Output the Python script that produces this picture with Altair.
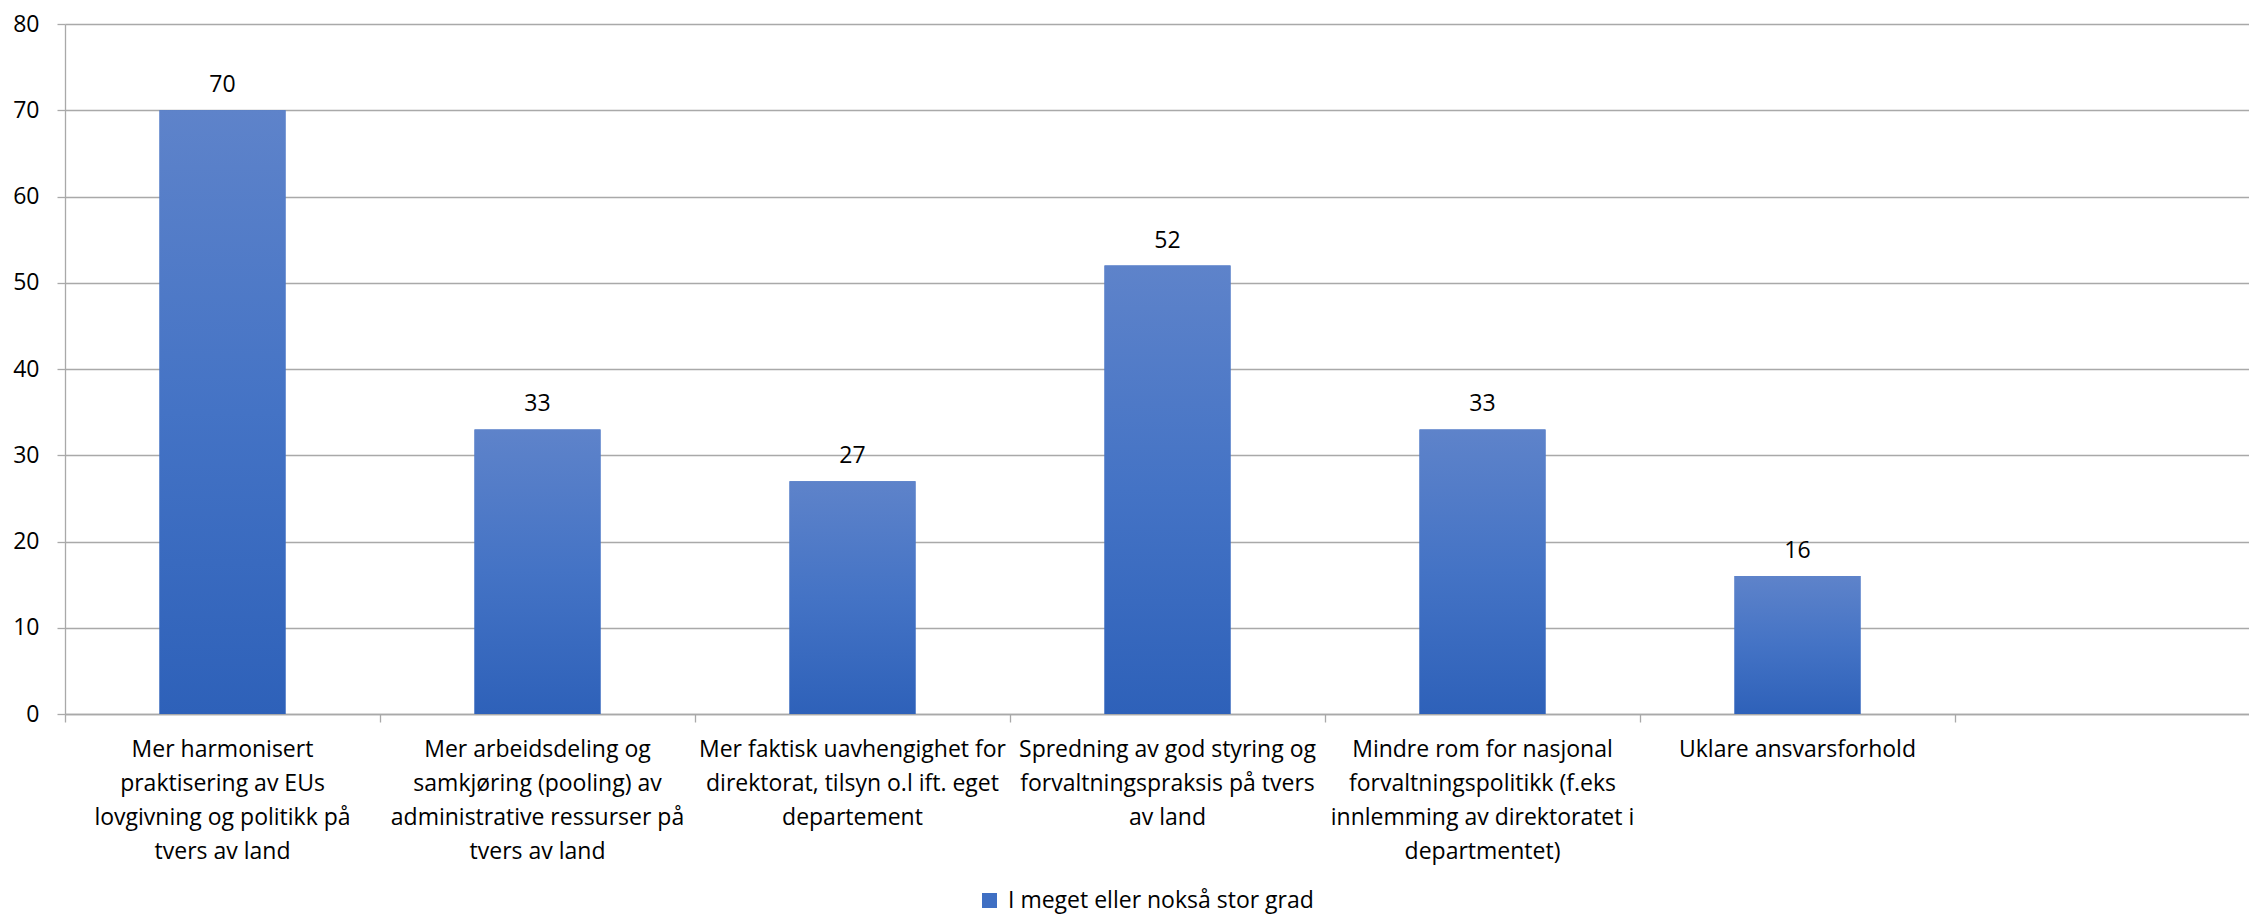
import altair as alt
import pandas as pd

# ---- data ----
categories = [
    "Mer harmonisert|praktisering av EUs|lovgivning og politikk på|tvers av land",
    "Mer arbeidsdeling og|samkjøring (pooling) av|administrative ressurser på|tvers av land",
    "Mer faktisk uavhengighet for|direktorat, tilsyn o.l ift. eget|departement",
    "Spredning av god styring og|forvaltningspraksis på tvers|av land",
    "Mindre rom for nasjonal|forvaltningspolitikk (f.eks|innlemming av direktoratet i|departmentet)",
    "Uklare ansvarsforhold",
]
values = [70, 33, 27, 52, 33, 16]
series_name = "I meget eller nokså stor grad"
blank_category = " "
y_ticks = [0, 10, 20, 30, 40, 50, 60, 70, 80]

df = pd.DataFrame({"kategori": categories, "verdi": values, "serie": [series_name] * len(values)})
x_domain = categories + [blank_category]

FONT = "Open Sans"
GRID = "#a9a9a9"
TXT = "#000000"

x_enc = alt.X(
    "kategori:N",
    sort=None,
    scale=alt.Scale(domain=x_domain, paddingInner=0, paddingOuter=0, range=[0, 2205]),
    axis=alt.Axis(
        title=None, labelAngle=0, labelExpr="split(datum.value, '|')",
        labelFont=FONT, labelFontSize=23, labelColor=TXT, labelLineHeight=34,
        labelPadding=16, labelLimit=500, labelOverlap=False, labelAlign="center",
        labelBaseline="top", tickSize=8, tickColor=GRID, tickWidth=1.3,
        domainColor=GRID, domainWidth=1.3, bandPosition=0, grid=False,
    ),
)
y_enc = alt.Y(
    "verdi:Q",
    scale=alt.Scale(domain=[0, 80], nice=False),
    axis=alt.Axis(
        title=None, values=y_ticks, grid=True, gridColor=GRID, gridWidth=1.3,
        tickSize=8, tickColor=GRID, tickWidth=1.3, domainColor=GRID, domainWidth=1.3,
        labelFont=FONT, labelFontSize=23, labelColor=TXT, labelPadding=18,
    ),
)

base = alt.Chart(df).encode(x=x_enc, y=y_enc)

legend_bars = base.mark_bar(width=alt.RelativeBandSize(0.4)).encode(
    color=alt.Color(
        "serie:N",
        scale=alt.Scale(range=["#3f6fc3"]),
        legend=alt.Legend(
            title=None, orient="none", legendX=913, legendY=865, direction="horizontal",
            symbolType="square", symbolSize=225, symbolStrokeWidth=0, symbolOpacity=1,
            labelFont=FONT, labelFontSize=23, labelColor=TXT, labelOffset=7,
            padding=0, labelLimit=600,
        ),
    )
)

gradient = alt.LinearGradient(
    gradient="linear",
    stops=[
        alt.GradientStop(color="#5e83ca", offset=0),
        alt.GradientStop(color="#4473c5", offset=0.5),
        alt.GradientStop(color="#2e61b9", offset=1),
    ],
    x1=0, x2=0, y1=0, y2=1,
)
grad_bars = base.mark_bar(width=alt.RelativeBandSize(0.4), color=gradient)

labels = base.mark_text(
    dy=-18, baseline="alphabetic", align="center", font=FONT, fontSize=23, color=TXT
).encode(text="verdi:Q")

chart = (
    alt.layer(legend_bars, grad_bars, labels)
    .properties(
        width=2184, height=690,
        autosize=alt.AutoSizeParams(type="none"),
        padding={"left": 57, "top": 16, "right": 0, "bottom": 200},
        background="white",
    )
    .configure_view(stroke=None)
)

chart.save("out.html", embed_options={"renderer": "svg", "actions": False})
